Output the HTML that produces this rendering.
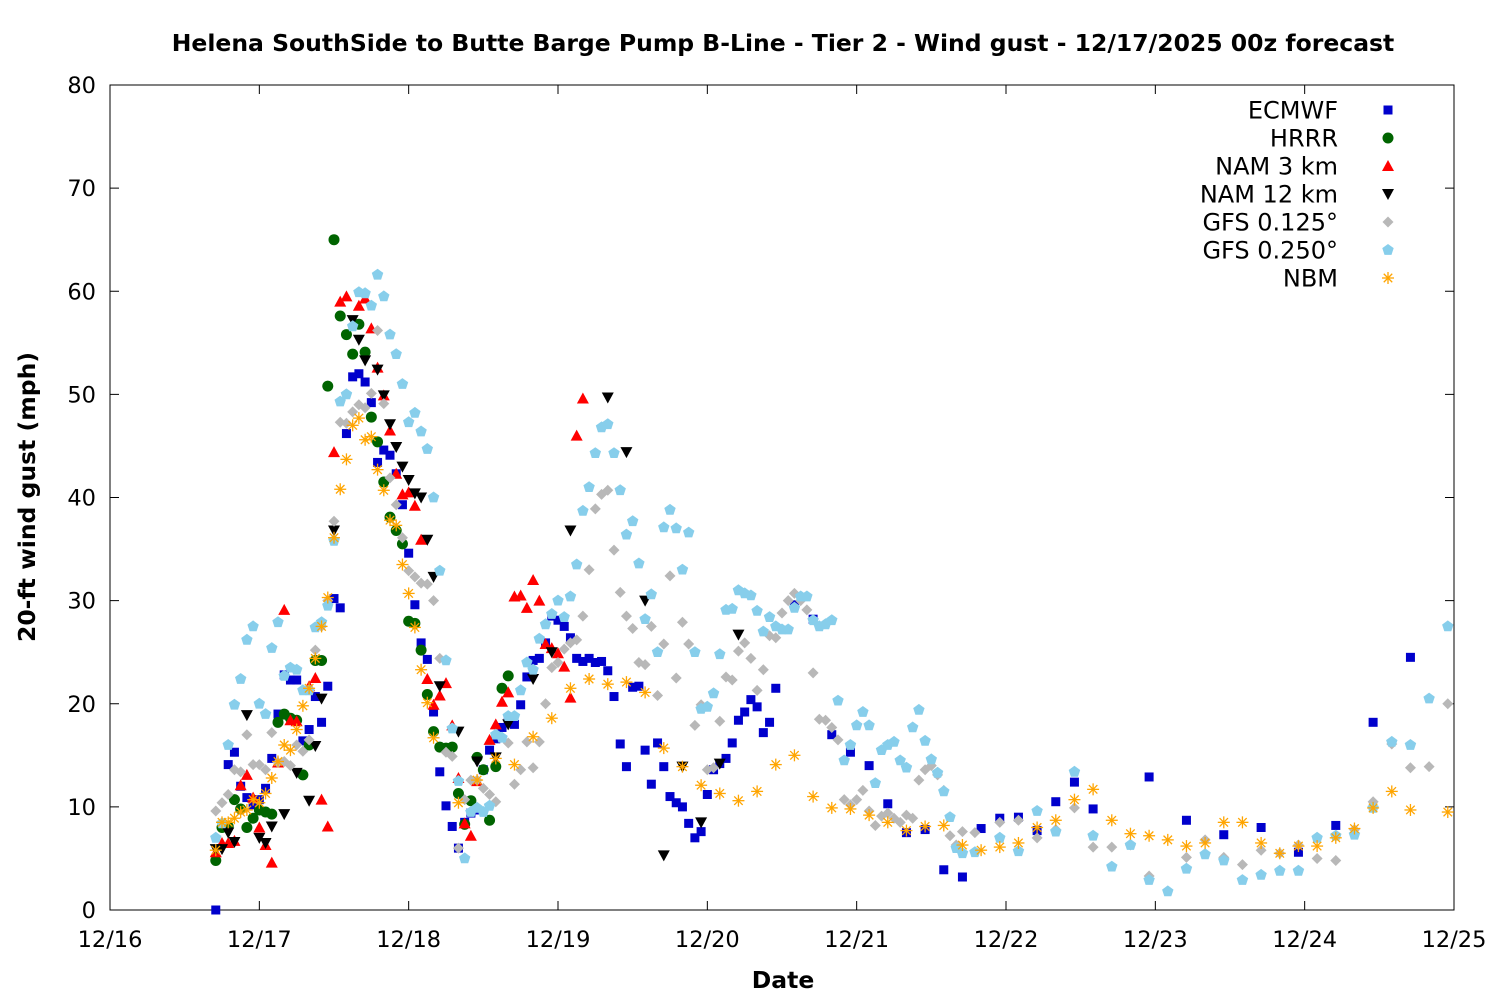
<!DOCTYPE html>
<html><head><meta charset="utf-8"><title>Wind gust forecast</title>
<style>
html,body{margin:0;padding:0;background:#fff;}
svg{display:block;font-family:"DejaVu Sans","Liberation Sans",sans-serif;}
</style></head>
<body>
<svg id="chart" width="1500" height="1000" viewBox="0 0 1500 1000">
<text x="783" y="51" text-anchor="middle" font-size="23.5" font-weight="bold">Helena SouthSide to Butte Barge Pump B-Line - Tier 2 - Wind gust - 12/17/2025 00z forecast</text>
<text x="783" y="988" text-anchor="middle" font-size="23.5" font-weight="bold">Date</text>
<text transform="translate(35,497) rotate(-90)" text-anchor="middle" font-size="23.5" font-weight="bold">20-ft wind gust (mph)</text>
<g id="axes"></g>
<g id="marks"></g>
<g id="legend"></g>
</svg>
<script>
const xTickLabels = ["12/16","12/17","12/18","12/19","12/20","12/21","12/22","12/23","12/24","12/25"];
const yTickValues = [0,10,20,30,40,50,60,70,80];

const ecmwfHours = [17,19,20,21,22,23,24,25,26,27,28,29,30,31,32,33,34,35,36,37,38,39,40,41,42,43,44,45,46,47,48,49,50,51,52,53,54,55,56,57,58,59,60,61,62,63,64,65,66,67,68,69,70,71,72,73,74,75,76,77,78,79,80,81,82,83,84,85,86,87,88,89,90,91,92,93,94,95,96,97,98,99,100,101,102,103,104,105,106,107,110,113,116,119,122,125,128,131,134,137,140,143,146,149,152,155,158,167,173,179,185,191,197,203,209];
const ecmwfVals = [0,14.1,15.3,12,10.9,10.2,10.7,11.8,14.7,19,22.8,22.3,22.3,16.4,17.5,20.7,18.2,21.7,30.2,29.3,46.2,51.7,52,51.2,49.2,43.4,44.6,44.1,42.3,39.3,34.6,29.6,25.9,24.3,19.2,13.4,10.1,8.1,6,8.5,9.4,9.7,13.6,15.5,16.6,17.7,18.2,18,19.9,22.6,24.2,24.4,25.9,28.5,28.1,27.5,26.4,24.4,24.1,24.4,24,24.1,23.2,20.7,16.1,13.9,21.6,21.7,15.5,12.2,16.2,13.9,11,10.4,10,8.4,7,7.6,11.2,13.6,14.2,14.7,16.2,18.4,19.2,20.4,19.7,17.2,18.2,21.5,29.6,28.2,17,15.3,14,10.3,7.5,7.8,3.9,3.2,7.9,8.9,9,7.7,10.5,12.4,9.8,12.9,8.7,7.3,8,5.6,8.2,18.2,24.5];

const hrrrHours = [17,18,19,20,21,22,23,24,25,26,27,28,29,30,31,32,33,34,35,36,37,38,39,40,41,42,43,44,45,46,47,48,49,50,51,52,53,54,55,56,57,58,59,60,61,62,63,64];
const hrrrVals = [4.8,8,8.1,10.7,9.8,8,8.9,9.7,9.5,9.3,18.2,19,18.6,18.4,13.1,16,24.2,24.2,50.8,65,57.6,55.8,53.9,56.8,54.1,47.8,45.4,41.5,38.1,36.8,35.5,28,27.8,25.2,20.9,17.3,15.8,15.7,15.8,11.3,8.3,10.6,14.8,13.6,8.7,13.9,21.5,22.7];

const nam3Hours = [17,18,19,20,21,22,23,24,25,26,27,28,29,30,32,33,34,35,36,37,38,40,41,42,43,44,45,46,47,48,49,50,51,52,53,54,55,56,57,58,59,61,62,63,64,65,66,67,68,69,70,71,72,73,74,75,76];
const nam3Vals = [5.6,6.5,6.5,6.7,12.1,13.1,10.9,8,6.3,4.6,14.3,29.1,18.4,18.3,21.7,22.5,10.7,8.1,44.4,59,59.5,58.6,59.3,56.4,52.6,49.9,46.5,42.3,40.3,40.5,39.2,35.9,22.4,19.9,20.8,22,17.9,12.8,8.4,7.2,12.5,16.5,18,20.2,21.1,30.4,30.5,29.3,32,30,25.8,25.4,24.9,23.6,20.6,46,49.6];

const nam12Hours = [17,18,19,20,22,24,25,26,28,30,32,33,34,36,39,40,41,43,44,45,46,47,48,49,50,51,52,53,56,59,62,64,68,71,74,80,83,86,89,92,95,98,101];
const nam12Vals = [5.9,5.9,7.5,6.6,18.9,7,6.5,8.1,9.3,13.3,10.6,15.9,20.5,36.8,57.2,55.3,53.3,52.4,49.9,47.1,44.9,43,41.7,40.4,40,35.9,32.3,21.7,17.3,14.4,14.8,18,22.4,25,36.8,49.7,44.4,30,5.3,13.9,8.5,14.2,26.7];

const gfs125Hours = [17,18,19,20,21,22,23,24,25,26,27,28,29,30,31,32,33,34,35,36,37,38,39,40,41,42,43,44,45,46,47,48,49,50,51,52,53,54,55,56,57,58,59,60,61,62,64,65,66,67,68,69,70,71,72,73,74,75,76,77,78,79,80,81,82,83,84,85,86,87,88,89,90,91,92,93,94,95,96,97,98,99,100,101,102,103,104,105,106,107,108,109,110,111,112,113,114,115,116,117,118,119,120,121,122,123,124,125,126,127,128,129,130,131,132,133,134,135,136,137,139,143,146,149,152,155,158,161,164,167,173,176,179,182,185,188,191,194,197,200,203,206,209,212,215];
const gfs125Vals = [9.6,10.4,11.2,13.6,13.4,17,14.1,14.1,13.6,17.2,14.3,14.4,14,16,15.4,16.5,25.2,27.5,30,37.7,47.3,47.2,48.3,49,48.7,50.1,56.2,49.1,41.9,39.3,36.1,32.9,32.3,31.7,31.6,30,24.4,15.3,14.9,6,10.7,12.6,12.6,11.8,11.2,10.5,16.2,12.2,13.6,16.3,13.8,16.3,20,23.5,24,25.3,25.9,26.2,28.5,33,38.9,40.3,40.7,34.9,30.8,28.5,27.3,24,23.8,27.5,20.8,25.8,32.4,22.5,27.9,25.8,17.9,19.9,13.6,13.8,18.3,22.6,22.3,25.1,25.9,24.4,21.3,23.3,26.6,26.4,28.8,30,30.7,30,29.1,23,18.5,18.4,17.7,16.5,10.7,10.2,10.7,11.6,9.6,8.2,9.1,9.4,8.9,8.5,9.2,8.9,12.6,13.6,14,13.1,11.6,7.2,6.3,7.6,7.5,8.5,8.7,7,7.8,9.9,6.1,6.1,6.3,3.3,5.1,6.8,5.1,4.4,5.8,5.5,6.3,5,4.8,7.8,10.5,16.1,13.8,13.9,20];

const gfs250Hours = [17,18,19,20,21,22,23,24,25,26,27,28,29,30,31,32,33,34,35,36,37,38,39,40,41,42,43,44,45,46,47,48,49,50,51,52,53,54,55,56,57,58,59,60,61,62,63,64,65,66,67,68,69,70,71,72,73,74,75,76,77,78,79,80,81,82,83,84,85,86,87,88,89,90,91,92,93,94,95,96,97,98,99,100,101,102,103,104,105,106,107,108,109,110,111,112,113,114,115,116,117,118,119,120,121,122,123,124,125,126,127,128,129,130,131,132,133,134,135,136,137,139,143,146,149,152,155,158,161,164,167,170,173,176,179,182,185,188,191,194,197,200,203,206,209,212,215];
const gfs250Vals = [7,8.4,16,19.9,22.4,26.2,27.5,20,19,25.4,27.9,22.7,23.5,23.3,21.3,21.3,27.4,27.9,29.5,35.8,49.3,50,56.6,59.9,59.8,58.6,61.6,59.5,55.8,53.9,51,47.3,48.2,46.4,44.7,40,32.9,24.2,17.6,12.5,5,9.5,9.9,9.5,10.1,17,16.7,18.8,18.8,21.3,24,23.3,26.3,27.7,28.7,30,28.4,30.4,33.5,38.7,41,44.3,46.8,47.1,44.3,40.7,36.4,37.7,33.6,28.2,30.6,25,37.1,38.8,37,33,36.6,25,19.5,19.7,21,24.8,29.1,29.2,31,30.7,30.5,29,27,28.4,27.5,27.2,27.2,29.3,30.4,30.4,28.1,27.5,27.7,28.1,20.3,14.5,16,17.9,19.2,17.9,12.3,15.5,16,16.3,14.5,13.8,17.7,19.4,16.4,14.6,13.3,11.5,9,6,5.5,5.6,7,5.7,9.6,7.6,13.4,7.2,4.2,6.3,2.9,1.8,4,5.4,4.8,2.9,3.4,3.8,3.8,7,7.2,7.3,9.9,16.3,16,20.5,27.5];

const nbmHours = [17,18,19,20,21,22,23,24,25,26,27,28,29,30,31,32,33,34,35,36,37,38,39,40,41,42,43,44,45,46,47,48,49,50,51,52,56,59,62,65,68,71,74,77,80,83,86,89,92,95,98,101,104,107,110,113,116,119,122,125,128,131,134,137,140,143,146,149,152,155,158,161,164,167,170,173,176,179,182,185,188,191,194,197,200,203,206,209,215];
const nbmVals = [5.8,8.5,8.5,8.9,9.5,9.7,10.7,10.4,11.3,12.8,14.4,16,15.5,17.5,19.8,21.5,24.4,27.5,30.3,36.1,40.8,43.7,47,47.7,45.6,45.9,42.7,40.7,37.8,37.3,33.5,30.7,27.4,23.3,20.1,16.7,10.4,12.6,14.7,14.1,16.8,18.6,21.5,22.4,21.9,22.1,21.1,15.7,13.9,12.1,11.3,10.6,11.5,14.1,15,11,9.9,9.8,9.2,8.5,7.7,8.1,8.2,6.3,5.8,6.1,6.5,8,8.7,10.7,11.7,8.7,7.4,7.2,6.8,6.2,6.5,8.5,8.5,6.5,5.5,6.2,6.2,7,7.9,9.9,11.5,9.7,9.5];

const seriesNames = ["ECMWF","HRRR","NAM 3 km","NAM 12 km","GFS 0.125°","GFS 0.250°","NBM"];

const NS = "http://www.w3.org/2000/svg";
const L = 110, R = 1454, T = 85, B = 910;
const X_MAX_H = 216, Y_MAX = 80;
function xScale(h){ return L + h / X_MAX_H * (R - L); }
function yScale(v){ return B - v / Y_MAX * (B - T); }
function mk(tag, attrs, parent){
  const e = document.createElementNS(NS, tag);
  for (const k in attrs) e.setAttribute(k, attrs[k]);
  parent.appendChild(e);
  return e;
}
const axes = document.getElementById('axes');
const marks = document.getElementById('marks');
const legend = document.getElementById('legend');

const frame = mk('rect', {x:L, y:T, width:R-L, height:B-T, fill:'none', stroke:'#000', 'stroke-width':1}, axes);



yTickValues.forEach(v => {
  const y = yScale(v);
  mk('line', {x1:L, x2:L+9, y1:y, y2:y, stroke:'#000'}, axes);
  mk('line', {x1:R, x2:R-9, y1:y, y2:y, stroke:'#000'}, axes);
  const t = mk('text', {x:L-14, y:y+8, 'text-anchor':'end', 'font-size':22.5}, axes);
  t.textContent = v;
  
  
});
xTickLabels.forEach((lab, i) => {
  const x = xScale(i * 24);
  mk('line', {x1:x, x2:x, y1:B, y2:B-9, stroke:'#000'}, axes);
  mk('line', {x1:x, x2:x, y1:T, y2:T+9, stroke:'#000'}, axes);
  const t = mk('text', {x:x, y:947, 'text-anchor':'middle', 'font-size':22.5}, axes);
  t.textContent = lab;
  
  
});

function drawMarker(kind, cx, cy, parent){
  let e;
  if (kind === 'square') e = mk('rect', {x:cx-4.5, y:cy-4.5, width:9, height:9, fill:'#0000cc'}, parent);
  else if (kind === 'circle') e = mk('circle', {cx:cx, cy:cy, r:5.5, fill:'#006400'}, parent);
  else if (kind === 'tri-up') e = mk('polygon', {points:`${cx},${cy-6} ${cx-6},${cy+5} ${cx+6},${cy+5}`, fill:'#ff0000'}, parent);
  else if (kind === 'tri-down') e = mk('polygon', {points:`${cx},${cy+6} ${cx-6},${cy-5} ${cx+6},${cy-5}`, fill:'#000'}, parent);
  else if (kind === 'diamond') e = mk('polygon', {points:`${cx},${cy-5.5} ${cx+5.5},${cy} ${cx},${cy+5.5} ${cx-5.5},${cy}`, fill:'#b8b8b8'}, parent);
  else if (kind === 'pentagon') {
    let p = [];
    for (let k = 0; k < 5; k++) { const a = -Math.PI/2 + k*2*Math.PI/5; p.push((cx+6*Math.cos(a)).toFixed(1)+','+(cy+6*Math.sin(a)).toFixed(1)); }
    e = mk('polygon', {points:p.join(' '), fill:'#87ceeb'}, parent);
  } else {
    e = mk('g', {stroke:'#ffa500', 'stroke-width':1.3}, parent);
    for (let k = 0; k < 4; k++) { const a = k*Math.PI/4; mk('line', {x1:cx-6*Math.cos(a), y1:cy-6*Math.sin(a), x2:cx+6*Math.cos(a), y2:cy+6*Math.sin(a)}, e); }
  }
  return e;
}

const seriesDefs = [
  [ecmwfHours, ecmwfVals, 'square', 'ecmwf'],
  [hrrrHours, hrrrVals, 'circle', 'hrrr'],
  [nam3Hours, nam3Vals, 'tri-up', 'nam-3km'],
  [nam12Hours, nam12Vals, 'tri-down', 'nam-12km'],
  [gfs125Hours, gfs125Vals, 'diamond', 'gfs-0125'],
  [gfs250Hours, gfs250Vals, 'pentagon', 'gfs-0250'],
  [nbmHours, nbmVals, 'asterisk', 'nbm']
];
seriesDefs.forEach((s, si) => {
  const g = mk('g', {}, marks);
  
  
  const n = Math.min(s[0].length, s[1].length);
  for (let i = 0; i < n; i++) {
    const m = drawMarker(s[2], xScale(s[0][i]), yScale(s[1][i]), g);
    
    
  }
  const ly = 110 + si * 28;
  const t = mk('text', {x:1338, y:ly+8.5, 'text-anchor':'end', 'font-size':24}, legend);
  t.textContent = seriesNames[si];
  
  
  const lm = drawMarker(s[2], 1388, ly, legend);
  
  
});
</script>
</body></html>
